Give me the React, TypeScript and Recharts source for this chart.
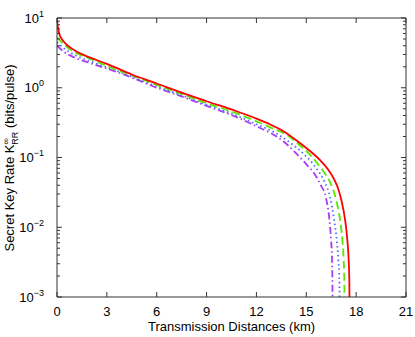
import React from "react";
import { LineChart, Line, XAxis, YAxis } from "recharts";

// distances (km) and key rates (bits/pulse)
const redX = [0, 0.05, 0.15, 0.4, 1, 2, 3, 4.5, 6, 7.5, 9, 10.8, 12, 12.8, 13.6, 14.6, 15.2, 15.8, 16.3, 16.65, 16.95, 17.1, 17.33, 17.47, 17.55, 17.59, 17.6];
const redY = [9.5, 7.5, 5.8, 4.6, 3.5, 2.7, 2.2, 1.55, 1.15, 0.85, 0.64, 0.46, 0.36, 0.3, 0.24, 0.162, 0.125, 0.093, 0.068, 0.05, 0.034, 0.025, 0.013, 0.0066, 0.0034, 0.0017, 0.001];

const greenX = [0, 0.2, 0.5, 1, 2, 3, 4.5, 6, 7.5, 9, 10.8, 12, 13, 13.8, 14.6, 15.3, 15.8, 16.1, 16.4, 16.79, 17.03, 17.17, 17.25, 17.29, 17.3];
const greenY = [5.3, 4.7, 4.0, 3.3, 2.6, 2.05, 1.5, 1.1, 0.81, 0.6, 0.43, 0.33, 0.26, 0.214, 0.15, 0.105, 0.075, 0.06, 0.046, 0.025, 0.0129, 0.0066, 0.0034, 0.0017, 0.001];

const blueX = [0, 0.4, 1, 2, 3, 4.5, 6, 7.5, 9, 10.8, 12, 13, 14, 14.8, 15.42, 15.8, 16.1, 16.43, 16.67, 16.83, 16.93, 16.99, 17.0];
const blueY = [4.5, 3.7, 3.0, 2.4, 1.95, 1.45, 1.05, 0.78, 0.57, 0.4, 0.3, 0.235, 0.165, 0.115, 0.08, 0.06, 0.045, 0.027, 0.013, 0.0066, 0.0034, 0.0017, 0.001];

const purpleX = [0, 0.4, 1, 2, 3, 4.5, 6, 7.5, 9, 10.8, 12, 12.82, 13.62, 14.3, 15.02, 15.5, 15.85, 16.19, 16.39, 16.49, 16.55, 16.57, 16.58];
const purpleY = [4.0, 3.3, 2.75, 2.25, 1.88, 1.4, 1.0, 0.75, 0.55, 0.38, 0.28, 0.226, 0.171, 0.12, 0.079, 0.058, 0.041, 0.026, 0.0129, 0.0066, 0.0034, 0.0017, 0.001];

const xTicks = [0, 3, 6, 9, 12, 15, 18, 21];
const yMajor = [0.001, 0.01, 0.1, 1, 10];
const yExp = ["\u22123", "\u22122", "\u22121", "0", "1"];
const yTicks = [
  0.001, 0.002, 0.003, 0.004, 0.005, 0.006, 0.007, 0.008, 0.009,
  0.01, 0.02, 0.03, 0.04, 0.05, 0.06, 0.07, 0.08, 0.09,
  0.1, 0.2, 0.3, 0.4, 0.5, 0.6, 0.7, 0.8, 0.9,
  1, 2, 3, 4, 5, 6, 7, 8, 9, 10,
];

const zip = (xs: number[], ys: number[]) => xs.map((x, i) => ({ x, y: ys[i] }));

const FONT = "'Liberation Sans', Arial, sans-serif";
const AXIS = "#333";

const XTickBottom = (props: any) => {
  const { x, y, payload } = props;
  return (
    <g>
      <line x1={x} x2={x} y1={y} y2={y - 5} stroke={AXIS} />
      <text x={x} y={y + 19} textAnchor="middle" fontSize={13} fontFamily={FONT} fill="#000">
        {payload.value}
      </text>
    </g>
  );
};

const XTickTop = (props: any) => {
  const { x, y } = props;
  return <line x1={x} x2={x} y1={y} y2={y + 5} stroke={AXIS} />;
};

const YTickLeft = (props: any) => {
  const { x, y, payload } = props;
  const idx = yMajor.indexOf(payload.value);
  const major = idx >= 0;
  return (
    <g>
      <line x1={x} x2={x + (major ? 5 : 3)} y1={y} y2={y} stroke={AXIS} />
      {major && (
        <text x={x - 13} y={y + 4.5} textAnchor="end" fontSize={13} fontFamily={FONT} fill="#000">
          10
          <tspan dy={-6} fontSize={9}>{yExp[idx]}</tspan>
        </text>
      )}
    </g>
  );
};

const YTickRight = (props: any) => {
  const { x, y, payload } = props;
  const major = yMajor.indexOf(payload.value) >= 0;
  return <line x1={x} x2={x - (major ? 5 : 3)} y1={y} y2={y} stroke={AXIS} />;
};

export default function App() {
  return (
    <div style={{ position: "absolute", left: 0, top: 0, width: 415, height: 337, background: "#fff" }}>
      <LineChart width={415} height={337} margin={{ top: 17, right: 8, bottom: 0, left: 0 }}>
        <XAxis
          xAxisId="b"
          dataKey="x"
          type="number"
          domain={[0, 21]}
          ticks={xTicks}
          interval={0}
          height={40}
          tickSize={0}
          tickMargin={0}
          tick={<XTickBottom />}
          stroke={AXIS}
          allowDataOverflow
        />
        <XAxis
          xAxisId="t"
          orientation="top"
          dataKey="x"
          type="number"
          domain={[0, 21]}
          ticks={xTicks}
          interval={0}
          height={1}
          tickSize={0}
          tickMargin={0}
          tick={<XTickTop />}
          stroke={AXIS}
          allowDataOverflow
        />
        <YAxis
          yAxisId="l"
          type="number"
          scale="log"
          domain={[0.001, 10]}
          ticks={yTicks}
          interval={0}
          width={57}
          tickSize={0}
          tickMargin={0}
          tick={<YTickLeft />}
          stroke={AXIS}
          allowDataOverflow
        />
        <YAxis
          yAxisId="r"
          orientation="right"
          type="number"
          scale="log"
          domain={[0.001, 10]}
          ticks={yTicks}
          interval={0}
          width={1}
          tickSize={0}
          tickMargin={0}
          tick={<YTickRight />}
          stroke={AXIS}
          allowDataOverflow
        />
        <Line xAxisId="t" yAxisId="r" data={zip(purpleX, purpleY)} dataKey="y" type="monotoneX" stroke="#a83cf5" strokeWidth={1.8} strokeDasharray="7 3 1.5 3" dot={false} isAnimationActive={false} />
        <Line xAxisId="b" yAxisId="l" data={zip(blueX, blueY)} dataKey="y" type="monotoneX" stroke="#4a6cff" strokeWidth={1.8} strokeDasharray="1.5 3" dot={false} isAnimationActive={false} />
        <Line xAxisId="b" yAxisId="l" data={zip(greenX, greenY)} dataKey="y" type="monotoneX" stroke="#5ce600" strokeWidth={1.8} strokeDasharray="8 4" dot={false} isAnimationActive={false} />
        <Line xAxisId="b" yAxisId="l" data={zip(redX, redY)} dataKey="y" type="monotoneX" stroke="#ff0000" strokeWidth={1.8} dot={false} isAnimationActive={false} />
        <text x={231.5} y={331} textAnchor="middle" fontSize={13} fontFamily={FONT} fill="#000">
          Transmission Distances (km)
        </text>
        <text transform="translate(14,158) rotate(-90)" textAnchor="middle" fontSize={13} fontFamily={FONT} fill="#000">
          Secret Key Rate K
          <tspan dy={-5} fontSize={9}>{"\u221E"}</tspan>
          <tspan dx={-6.5} dy={9} fontSize={9}>RR</tspan>
          <tspan dy={-4}> (bits/pulse)</tspan>
        </text>
      </LineChart>
    </div>
  );
}
